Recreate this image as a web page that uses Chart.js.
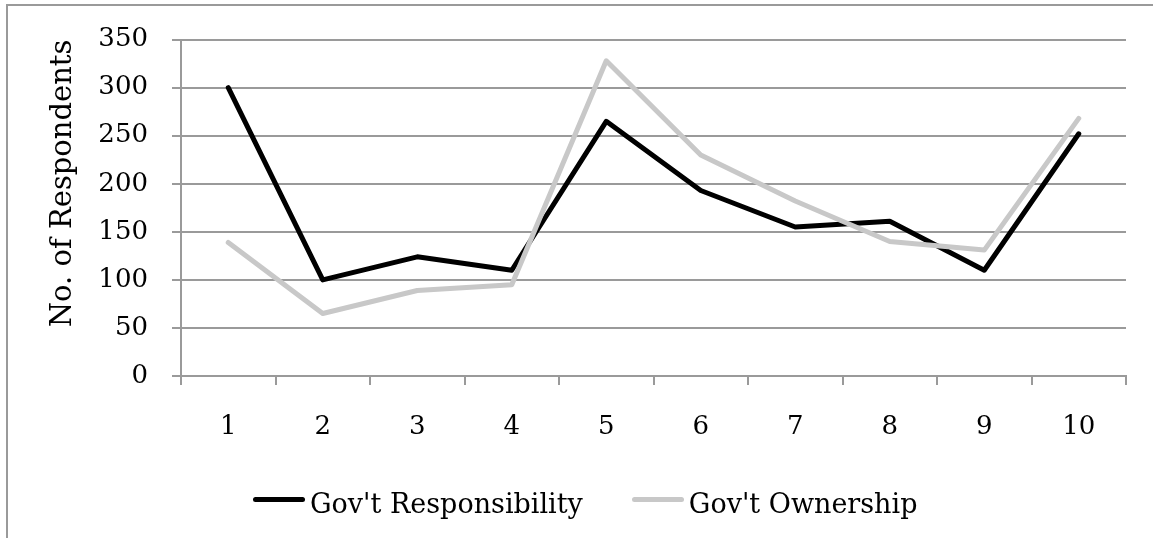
<!DOCTYPE html>
<html>
<head>
<meta charset="utf-8">
<script src="https://cdn.jsdelivr.net/npm/chart.js@4"></script>
<style>
  html, body { margin: 0; padding: 0; background: #fff; }
  #wrap { position: relative; width: 1153px; height: 538px; overflow: hidden; }
  #frame { position: absolute; left: 6px; top: 4px; width: 2000px; height: 2000px;
           border-left: 2px solid #9a9a9a; border-top: 2px solid #9a9a9a; }
  #legend { position: absolute; left: 253px; top: 488px; display: flex; align-items: flex-start;
            font-family: "DejaVu Serif"; font-size: 27px; line-height: 31px; color: #000; }
  .item { display: flex; align-items: flex-start; margin-right: 49px; }
  .swatch { width: 52px; height: 5px; border-radius: 3px; margin-top: 8.5px; margin-right: 5px; }
</style>
</head>
<body>
<div id="wrap">
  <div id="frame"></div>
  <canvas id="chart" width="1153" height="538"></canvas>
  <div id="legend"></div>
</div>
<script>
const categories = ["1", "2", "3", "4", "5", "6", "7", "8", "9", "10"];
const govResponsibility = [300, 100, 124, 110, 265, 193, 155, 161, 110, 252];
const govOwnership = [139, 65, 89, 95, 328, 230, 182, 140, 131, 268];
const seriesNames = ["Gov't Responsibility", "Gov't Ownership"];
const yTicks = [0, 50, 100, 150, 200, 250, 300, 350];

const serif = "DejaVu Serif";
const gridGrey = "#9a9a9a";

let ctx = document.getElementById("chart").getContext("2d");

let chart = new Chart(ctx, {
  type: "line",
  data: {
    labels: categories,
    datasets: [
      {
        label: seriesNames[0],
        data: govResponsibility,
        borderColor: "#000000",
        backgroundColor: "#000000",
        borderWidth: 5,
        borderJoinStyle: "round",
        borderCapStyle: "round",
        pointRadius: 0,
        tension: 0,
        order: 1
      },
      {
        label: seriesNames[1],
        data: govOwnership,
        borderColor: "#c8c8c8",
        backgroundColor: "#c8c8c8",
        borderWidth: 5,
        borderJoinStyle: "round",
        borderCapStyle: "round",
        pointRadius: 0,
        tension: 0,
        order: 0
      }
    ]
  },
  options: {
    responsive: false,
    animation: false,
    layout: { padding: { top: 38, right: 27, bottom: 0, left: 0 } },
    plugins: {
      legend: { display: false },
      tooltip: { enabled: false }
    },
    scales: {
      x: {
        offset: true,
        grid: {
          offset: true,
          drawOnChartArea: false,
          drawTicks: true,
          tickLength: 9,
          color: gridGrey,
          lineWidth: 2
        },
        border: { color: gridGrey, width: 2 },
        ticks: {
          color: "#000",
          padding: 27,
          font: { family: serif, size: 26 },
          maxRotation: 0
        },
        afterFit: (scale) => { scale.height = 162; }
      },
      y: {
        min: 0,
        max: 350,
        afterBuildTicks: (scale) => { scale.ticks = yTicks.map(v => ({ value: v })); },
        grid: {
          color: gridGrey,
          lineWidth: 2,
          tickLength: 9
        },
        border: { color: gridGrey, width: 2 },
        ticks: {
          color: "#000",
          padding: 24,
          font: { family: serif, size: 26 }
        },
        title: {
          display: true,
          text: "No. of Respondents",
          color: "#000",
          align: "end",
          font: { family: serif, size: 29, weight: "normal" },
          padding: { top: 46, bottom: 0 }
        },
        afterFit: (scale) => { scale.width = 181; }
      }
    }
  }
});

// legend built from the datasets
let legend = document.getElementById("legend");
chart.data.datasets.forEach(ds => {
  let item = document.createElement("div");
  item.className = "item";
  let sw = document.createElement("span");
  sw.className = "swatch";
  sw.style.background = ds.borderColor;
  let txt = document.createElement("span");
  txt.innerText = ds.label;
  item.appendChild(sw);
  item.appendChild(txt);
  legend.appendChild(item);
});
</script>
</body>
</html>
